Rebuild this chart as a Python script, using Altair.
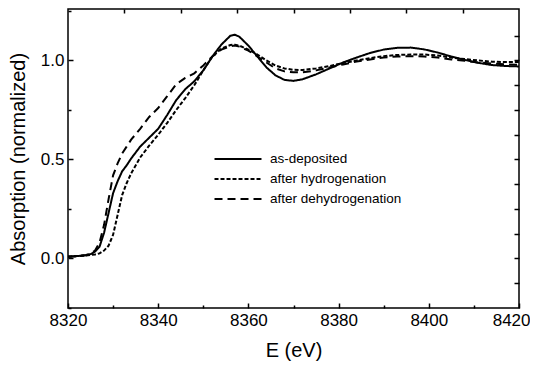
import altair as alt
import pandas as pd

energy = [8320, 8322, 8324, 8325, 8326, 8327, 8328, 8329, 8330, 8331, 8332, 8333, 8334,
          8336, 8338, 8340, 8342, 8344, 8346, 8348, 8350, 8352, 8354, 8356, 8357, 8358,
          8360, 8362, 8364, 8366, 8368, 8370, 8372, 8375, 8378, 8381, 8384, 8387, 8390,
          8393, 8396, 8399, 8402, 8405, 8408, 8411, 8414, 8417, 8420]

as_deposited = [0.010, 0.012, 0.016, 0.022, 0.035, 0.06, 0.13, 0.23, 0.33, 0.39, 0.44, 0.47, 0.505,
                0.565, 0.610, 0.655, 0.725, 0.800, 0.855, 0.895, 0.950, 1.020, 1.080, 1.125, 1.130, 1.120,
                1.075, 1.020, 0.965, 0.925, 0.902, 0.897, 0.905, 0.930, 0.960, 0.990, 1.015, 1.038, 1.055,
                1.064, 1.065, 1.056, 1.040, 1.020, 1.003, 0.988, 0.977, 0.972, 0.970]

hydrogenated = [0.010, 0.012, 0.015, 0.018, 0.020, 0.026, 0.040, 0.065, 0.12, 0.22, 0.32, 0.38, 0.43,
                0.51, 0.57, 0.625, 0.685, 0.750, 0.810, 0.875, 0.950, 1.020, 1.060, 1.078, 1.080, 1.075,
                1.055, 1.030, 1.000, 0.975, 0.960, 0.953, 0.952, 0.960, 0.972, 0.987, 1.000, 1.012, 1.022,
                1.028, 1.030, 1.030, 1.025, 1.015, 1.007, 1.000, 0.994, 0.992, 0.992]

dehydrogenated = [0.008, 0.012, 0.018, 0.025, 0.040, 0.08, 0.17, 0.30, 0.42, 0.48, 0.53, 0.565, 0.60,
                  0.655, 0.715, 0.760, 0.820, 0.880, 0.912, 0.935, 0.975, 1.020, 1.055, 1.072, 1.075, 1.070,
                  1.050, 1.020, 0.990, 0.960, 0.945, 0.940, 0.940, 0.950, 0.965, 0.980, 0.995, 1.005, 1.015,
                  1.020, 1.022, 1.020, 1.015, 1.005, 0.998, 0.990, 0.985, 0.980, 0.978]

series_names = ["as-deposited", "after hydrogenation", "after dehydrogenation"]
series_dashes = [[1, 0], [4, 2], [8, 5]]

x_major = [8320, 8340, 8360, 8380, 8400, 8420]
x_minor = [8330, 8350, 8370, 8390, 8410]
x_top = [8332.5, 8345, 8357.5, 8370, 8382.5, 8395, 8407.5]
y_major = [0.0, 0.5, 1.0]
y_minor = [-0.25, 0.25, 0.75, 1.25]
y_right = [-0.125, 0.0, 0.125, 0.25, 0.375, 0.5, 0.625, 0.75, 0.875, 1.0, 1.125]

rows = []
for name, vals in zip(series_names, [as_deposited, hydrogenated, dehydrogenated]):
    for e, v in zip(energy, vals):
        rows.append({"E": e, "A": v, "series": name})
df = pd.DataFrame(rows)

FONT = "Liberation Sans"
xdom = [8320, 8420]
ydom = [-0.25, 1.26]

def xscale():
    return alt.Scale(domain=xdom, nice=False, zero=False)

def yscale():
    return alt.Scale(domain=ydom, nice=False, zero=False)

base = alt.Chart(df)

lines = base.mark_line(color="black", strokeWidth=2).encode(
    x=alt.X("E:Q", scale=xscale(), axis=alt.Axis(
        orient="bottom", values=x_major, format="d", title="E (eV)", domain=False, grid=False,
        tickSize=5, offset=-5, tickColor="black", tickWidth=1.5, labelPadding=4, labelFlush=False,
        labelAlign=alt.ExprRef(expr="datum.value == 8420 ? 'right' : 'center'"),
        labelOffset=alt.ExprRef(expr="datum.value == 8420 ? 11 : 0"),
        labelFont=FONT, labelFontSize=17, labelColor="black",
        titleFont=FONT, titleFontSize=20, titleFontWeight="normal", titleColor="black", titlePadding=12)),
    y=alt.Y("A:Q", scale=yscale(), axis=alt.Axis(
        orient="left", values=y_major, format=".1f", title="Absorption (normalized)", domain=False, grid=False,
        tickSize=5, offset=-5, tickColor="black", tickWidth=1.5, labelPadding=4, labelFlush=False,
        labelFont=FONT, labelFontSize=17, labelColor="black",
        titleFont=FONT, titleFontSize=20, titleFontWeight="normal", titleColor="black", titlePadding=12)),
    strokeDash=alt.StrokeDash("series:N", scale=alt.Scale(domain=series_names, range=series_dashes),
                              sort=series_names,
                              legend=alt.Legend(title=None, orient="none", legendX=157, legendY=137,
                                                symbolType="M-2,0L2,0", symbolSize=552, symbolStrokeWidth=2,
                                                symbolStrokeColor="black", labelFont=FONT, labelFontSize=13.5,
                                                labelColor="black", labelOffset=19, rowPadding=0)),
    order=alt.Order("E:Q"),
)

minor = base.mark_line(opacity=0).encode(
    x=alt.X("E:Q", scale=xscale(), axis=alt.Axis(
        orient="bottom", values=x_minor, labels=False, title=None, domain=False, grid=False,
        tickSize=3, offset=-3, tickColor="black", tickWidth=1.5)),
    y=alt.Y("A:Q", scale=yscale(), axis=alt.Axis(
        orient="left", values=y_minor, labels=False, title=None, domain=False, grid=False,
        tickSize=3, offset=-3, tickColor="black", tickWidth=1.5)),
    detail="series:N",
)

topright = base.mark_line(opacity=0).encode(
    x=alt.X("E:Q", scale=xscale(), axis=alt.Axis(
        orient="top", values=x_top, labels=False, title=None, domain=False, grid=False,
        tickSize=4, offset=-4, tickColor="black", tickWidth=1.5)),
    y=alt.Y("A:Q", scale=yscale(), axis=alt.Axis(
        orient="right", values=y_right, labels=False, title=None, domain=False, grid=False,
        tickSize=5, offset=-5, tickColor="black", tickWidth=1.5)),
    detail="series:N",
)

chart = alt.layer(lines, minor, topright).resolve_axis(
    x="independent", y="independent"
).properties(
    width=451, height=299,
    autosize=alt.AutoSizeParams(type="none"),
    padding={"left": 60, "top": 1, "right": 11, "bottom": 56},
    background="white",
).configure_view(stroke="black", strokeWidth=1.5)

chart.save("out.html", embed_options={"renderer": "svg", "actions": False})
